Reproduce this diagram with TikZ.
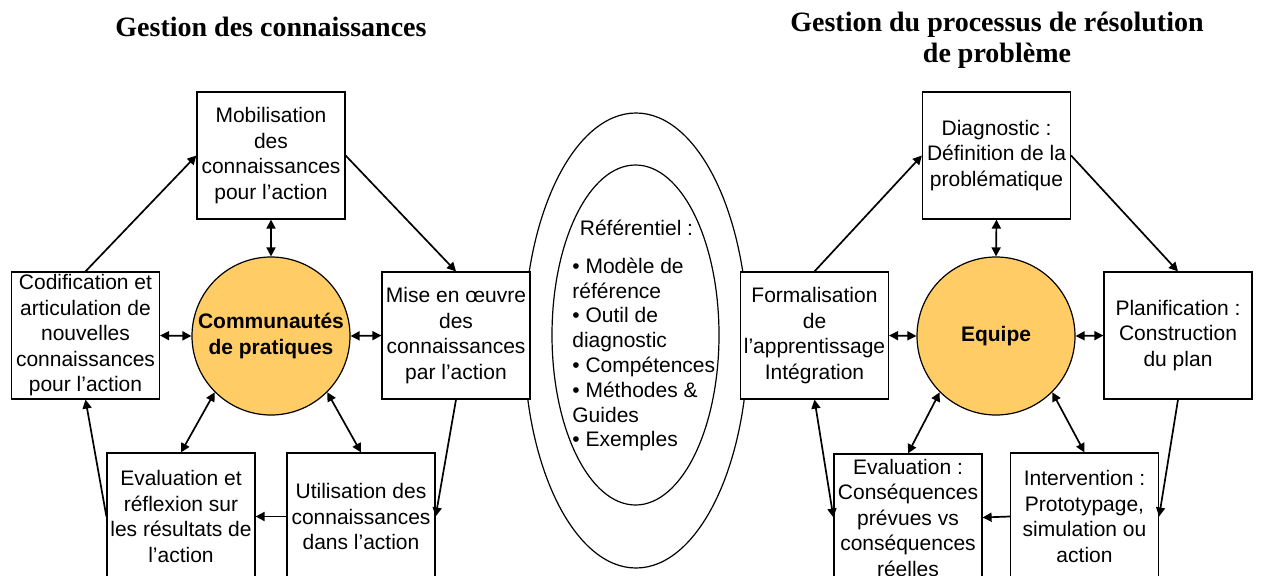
\documentclass[tikz,border=0pt]{standalone}
\usepackage{fontspec}
\setmainfont{Liberation Serif}
\setsansfont{Liberation Sans}
\usepackage{tikz}
\usetikzlibrary{arrows.meta}
\definecolor{disque}{RGB}{255,204,102}

\begin{document}
\begin{tikzpicture}[x=0.5pt,y=0.5pt,
  boite/.style={draw,fill=white,line width=0.6pt,align=center,minimum width=74pt,minimum height=63.5pt,inner sep=0.5pt,font=\sffamily\fontsize{10.5}{12.75}\selectfont},
  disq/.style={circle,draw,fill=disque,line width=0.6pt,minimum size=79pt,inner sep=0pt,align=center,font=\sffamily\bfseries\fontsize{10.5}{12.75}\selectfont},
  titre/.style={align=center,font=\bfseries\fontsize{14}{15.5}\selectfont},
  fl/.style={-{Triangle[length=4.5pt,width=4.5pt]},line width=0.85pt},
  dfl/.style={{Triangle[length=4.5pt,width=4.5pt]}-{Triangle[length=4.5pt,width=4.5pt]},line width=0.85pt}]
 \clip (0,0) rectangle (1263,575);
 % titres
 \node[titre] (tg) at (271,548) {Gestion des connaissances};
 \node[titre] (td) at (997,535) {Gestion du processus de résolution\\de problème};
 % referentiel
 \draw[line width=0.6pt] (636,234.5) ellipse [x radius=112, y radius=227.5];
 \draw[line width=0.6pt] (635.5,240) ellipse [x radius=83.5, y radius=170];
 \node[font=\sffamily\fontsize{10.5}{12.75}\selectfont] (reftitre) at (636.5,347) {Référentiel :};
 \node[font=\sffamily\fontsize{10.5}{12.4}\selectfont,align=left,anchor=west,inner sep=0pt] (refliste) at (572,220.5)
  {• Modèle de\\référence\\• Outil de\\diagnostic\\• Compétences\\• Méthodes \&\\Guides\\• Exemples};
 % gestion des connaissances
 \node[boite] (mobil) at (271,419.5) {Mobilisation\\des\\connaissances\\pour l’action};
 \node[disq] (cop) at (271,239) {Communautés\\de pratiques};
 \node[boite] (codif) at (85.5,239.5) {Codification et\\articulation de\\nouvelles\\connaissances\\pour l’action};
 \node[boite] (mise) at (456,239.5) {Mise en œuvre\\des\\connaissances\\par l’action};
 \node[boite] (evalg) at (181,58.5) {Evaluation et\\réflexion sur\\les résultats de\\l’action};
 \node[boite] (util) at (361,58.5) {Utilisation des\\connaissances\\dans l’action};
 \draw[fl] (codif.north) -- (mobil.west);
 \draw[fl] (mobil.east) -- (mise.north);
 \draw[fl] (mise.south) -- (util.east);
 \draw[fl] (util.west) -- (evalg.east);
 \draw[fl] (evalg.west) -- (codif.south);
 \draw[dfl] (mobil.south) -- (cop.north);
 \draw[dfl] (codif.east) -- (cop.west);
 \draw[dfl] (cop.east) -- (mise.west);
 \draw[dfl] (cop.south west) -- (evalg.north);
 \draw[dfl] (cop.south east) -- (util.north);
 % resolution de probleme
 \node[boite] (diag) at (996.5,419.5) {Diagnostic :\\Définition de la\\problématique};
 \node[disq] (equipe) at (996,239) {Equipe};
 \node[boite] (formal) at (814.5,239.5) {Formalisation\\de\\l’apprentissage\\Intégration};
 \node[boite] (planif) at (1178,239.5) {Planification :\\Construction\\du plan};
 \node[boite] (evald) at (908,57.5) {Evaluation :\\Conséquences\\prévues vs\\conséquences\\réelles};
 \node[boite] (interv) at (1084.5,58.5) {Intervention :\\Prototypage,\\simulation ou\\action};
 \draw[fl] (formal.north) -- (diag.west);
 \draw[fl] (diag.east) -- (planif.north);
 \draw[fl] (planif.south) -- (interv.east);
 \draw[fl] (interv.west) -- (evald.east);
 \draw[dfl] (formal.south) -- (evald.west);
 \draw[dfl] (diag.south) -- (equipe.north);
 \draw[dfl] (formal.east) -- (equipe.west);
 \draw[dfl] (equipe.east) -- (planif.west);
 \draw[dfl] (equipe.south west) -- (evald.north);
 \draw[dfl] (equipe.south east) -- (interv.north);
\end{tikzpicture}
\end{document}
